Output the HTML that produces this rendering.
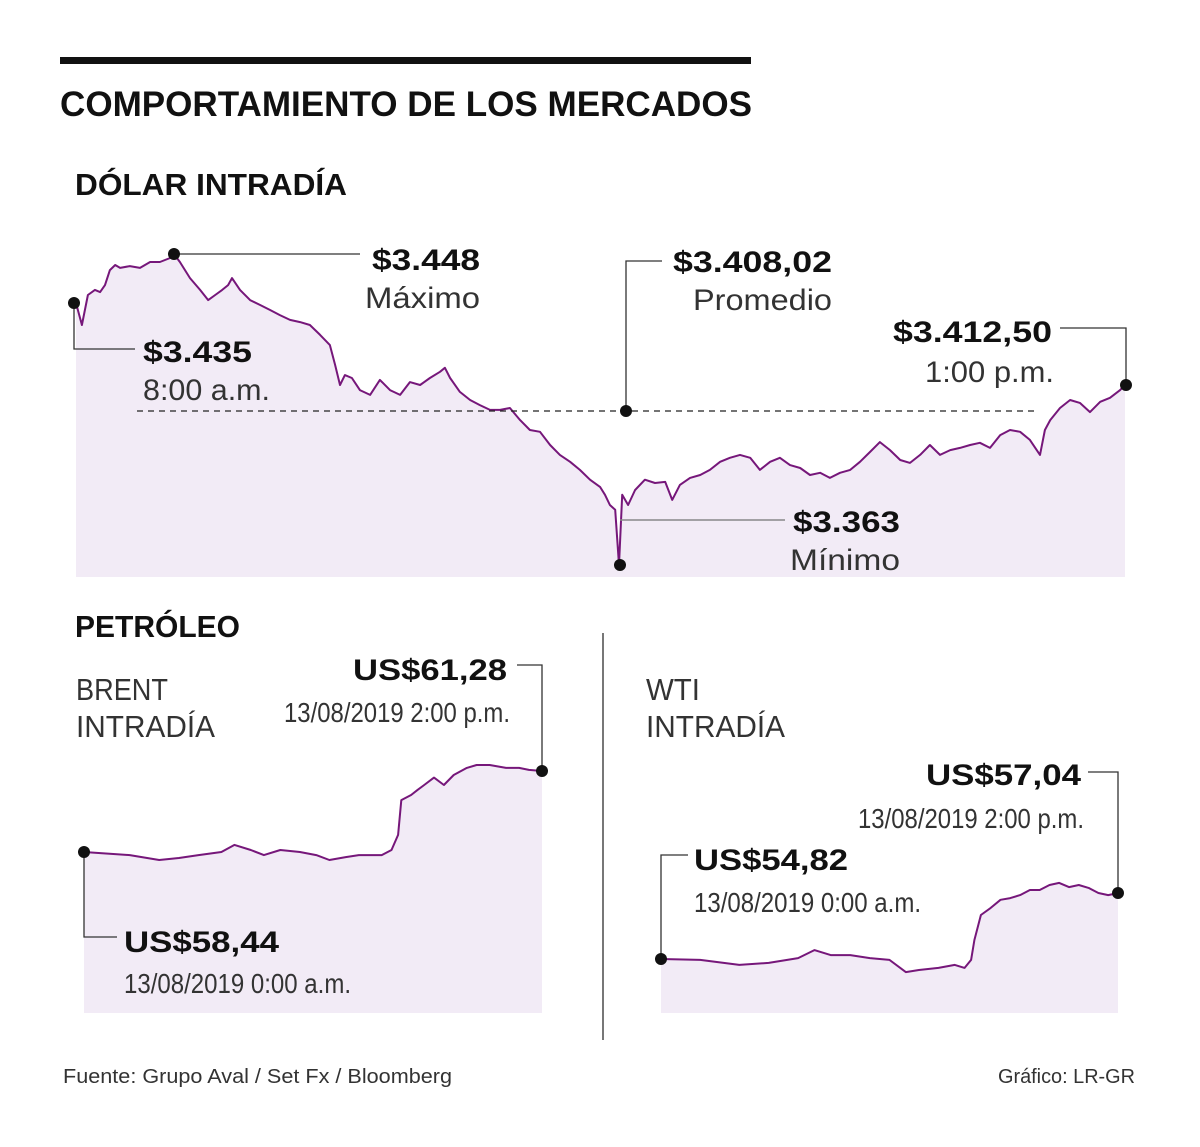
<!DOCTYPE html>
<html><head><meta charset="utf-8"><style>
html,body{margin:0;padding:0;background:#fff;}
svg{display:block;font-family:"Liberation Sans",sans-serif;}
</style></head><body>
<svg id="chart" width="1200" height="1147" viewBox="0 0 1200 1147" xmlns="http://www.w3.org/2000/svg">
<rect x="60" y="57" width="691" height="7" fill="#111"/>
<text x="60" y="116" font-size="35" font-weight="bold" textLength="692" lengthAdjust="spacingAndGlyphs" fill="#111">COMPORTAMIENTO DE LOS MERCADOS</text>
<text x="75" y="195" font-size="31" font-weight="bold" textLength="272" lengthAdjust="spacingAndGlyphs" fill="#111">DÓLAR INTRADÍA</text>
<g id="dollar"></g>
<g id="brent"></g>
<g id="wti"></g>
<g id="annot" fill="#111">
<line x1="137" y1="411" x2="1035" y2="411" stroke="#222" stroke-width="1.3" stroke-dasharray="6,5"/>
<polyline points="174,254 360,254" fill="none" stroke="#333" stroke-width="1.3"/>
<polyline points="74,303 74,349 135,349" fill="none" stroke="#333" stroke-width="1.3"/>
<polyline points="626,411 626,261 662,261" fill="none" stroke="#333" stroke-width="1.3"/>
<polyline points="1060,328 1126,328 1126,385" fill="none" stroke="#333" stroke-width="1.3"/>
<polyline points="620,520 785,520" fill="none" stroke="#888" stroke-width="1.5"/>
<circle cx="174" cy="254" r="6"/>
<circle cx="74" cy="303" r="6"/>
<circle cx="626" cy="411" r="6"/>
<circle cx="1126" cy="385" r="6"/>
<circle cx="620" cy="565" r="6"/>
<text x="372" y="270" font-size="30" font-weight="bold" textLength="108" lengthAdjust="spacingAndGlyphs">$3.448</text>
<text x="365" y="308" font-size="30" fill="#333" textLength="115" lengthAdjust="spacingAndGlyphs">Máximo</text>
<text x="673" y="272" font-size="30" font-weight="bold" textLength="159" lengthAdjust="spacingAndGlyphs">$3.408,02</text>
<text x="693" y="310" font-size="30" fill="#333" textLength="139" lengthAdjust="spacingAndGlyphs">Promedio</text>
<text x="143" y="362" font-size="30" font-weight="bold" textLength="109" lengthAdjust="spacingAndGlyphs">$3.435</text>
<text x="143" y="400" font-size="30" fill="#333" textLength="127" lengthAdjust="spacingAndGlyphs">8:00 a.m.</text>
<text x="893" y="342" font-size="30" font-weight="bold" textLength="159" lengthAdjust="spacingAndGlyphs">$3.412,50</text>
<text x="925" y="382" font-size="30" fill="#333" textLength="129" lengthAdjust="spacingAndGlyphs">1:00 p.m.</text>
<text x="793" y="532" font-size="30" font-weight="bold" textLength="107" lengthAdjust="spacingAndGlyphs">$3.363</text>
<text x="790" y="570" font-size="30" fill="#333" textLength="110" lengthAdjust="spacingAndGlyphs">Mínimo</text>

<text x="75" y="637" font-size="31" font-weight="bold" textLength="165" lengthAdjust="spacingAndGlyphs">PETRÓLEO</text>
<line x1="603" y1="633" x2="603" y2="1040" stroke="#777" stroke-width="2"/>
<text x="76" y="700" font-size="31" fill="#333" textLength="92" lengthAdjust="spacingAndGlyphs">BRENT</text>
<text x="76" y="737" font-size="31" fill="#333" textLength="139" lengthAdjust="spacingAndGlyphs">INTRADÍA</text>
<text x="646" y="700" font-size="31" fill="#333" textLength="54" lengthAdjust="spacingAndGlyphs">WTI</text>
<text x="646" y="737" font-size="31" fill="#333" textLength="139" lengthAdjust="spacingAndGlyphs">INTRADÍA</text>

<polyline points="542,771 542,665 517,665" fill="none" stroke="#333" stroke-width="1.3"/>
<polyline points="84,852 84,937 117,937" fill="none" stroke="#333" stroke-width="1.3"/>
<polyline points="1118,893 1118,772 1088,772" fill="none" stroke="#333" stroke-width="1.3"/>
<polyline points="661,959 661,855 688,855" fill="none" stroke="#333" stroke-width="1.3"/>
<circle cx="542" cy="771" r="6"/>
<circle cx="84" cy="852" r="6"/>
<circle cx="1118" cy="893" r="6"/>
<circle cx="661" cy="959" r="6"/>

<text x="353" y="680" font-size="30" font-weight="bold" textLength="154" lengthAdjust="spacingAndGlyphs">US$61,28</text>
<text x="284" y="722" font-size="28" fill="#333" textLength="226" lengthAdjust="spacingAndGlyphs">13/08/2019 2:00 p.m.</text>
<text x="124" y="952" font-size="30" font-weight="bold" textLength="155" lengthAdjust="spacingAndGlyphs">US$58,44</text>
<text x="124" y="993" font-size="28" fill="#333" textLength="227" lengthAdjust="spacingAndGlyphs">13/08/2019 0:00 a.m.</text>
<text x="926" y="785" font-size="30" font-weight="bold" textLength="155" lengthAdjust="spacingAndGlyphs">US$57,04</text>
<text x="858" y="828" font-size="28" fill="#333" textLength="226" lengthAdjust="spacingAndGlyphs">13/08/2019 2:00 p.m.</text>
<text x="694" y="870" font-size="30" font-weight="bold" textLength="154" lengthAdjust="spacingAndGlyphs">US$54,82</text>
<text x="694" y="912" font-size="28" fill="#333" textLength="227" lengthAdjust="spacingAndGlyphs">13/08/2019 0:00 a.m.</text>

<text x="63" y="1083" font-size="20" fill="#333" textLength="389" lengthAdjust="spacingAndGlyphs">Fuente: Grupo Aval / Set Fx / Bloomberg</text>
<text x="998" y="1083" font-size="20" fill="#333" textLength="137" lengthAdjust="spacingAndGlyphs">Gráfico: LR-GR</text>
</g>
</svg>
<script>
const dollarMinutes=[0,1.7,3.4,5.4,6.9,8.3,9.7,11.2,12.6,15.4,18.3,21.2,24,26.9,28,29.7,32.6,35.5,37.8,39.8,41.8,43.5,44.6,46.9,49.8,52.6,55.5,58.3,61.2,64.1,66.9,69.8,72.6,74.1,75.5,76.9,78.9,81.2,84.1,86.9,89.8,92.7,95.5,98.4,101.2,104.1,105.5,107,109.8,112.7,115.5,118.4,121.3,124.1,127,129.8,132.7,135.6,138.4,141.3,144.1,147,149.9,151.3,152.7,154.2,155.3,156.2,157.9,159.9,162.7,165.6,168.5,170.5,172.7,175.6,178.5,181.3,184.2,187,189.9,192.8,195.6,198.5,201.3,204.2,207.1,209.9,212.8,215.6,218.5,221.4,224.2,227.1,229.9,232.8,235.7,238.5,241.4,244.2,247.1,250,252.8,255.7,258.5,261.4,264.3,267.1,270,272.8,275.7,277.1,278.6,281.4,284.3,287.1,290,292.9,295.7,298.6,300];
const dollarValues=[3434.6,3428.6,3436.8,3438.2,3437.6,3439.5,3443.6,3445,3444.2,3444.7,3444.2,3445.8,3445.8,3446.9,3448,3445.8,3441.4,3438.2,3435.4,3436.8,3438.2,3439.5,3441.4,3438.2,3435.4,3434.1,3432.7,3431.3,3430,3429.4,3428.6,3425.9,3423.1,3417.7,3412.2,3414.9,3414.1,3410.8,3409.5,3413.6,3410.8,3409.5,3413,3412.2,3414.1,3415.8,3416.9,3414.1,3410.3,3408.1,3406.7,3405.4,3405.4,3405.9,3402.6,3399.9,3399.4,3395.8,3393.1,3391.2,3389,3386.3,3384.3,3382.2,3379.4,3378.1,3363,3382.2,3379.4,3383.5,3386.3,3385.4,3385.7,3380.8,3384.9,3386.8,3387.6,3389,3391.2,3392.3,3393.1,3392.3,3389,3391.2,3392.3,3390.3,3389.5,3387.6,3388.2,3386.8,3388.2,3389,3391.2,3393.9,3396.6,3394.4,3391.7,3390.9,3393.1,3395.8,3393.1,3394.4,3395,3395.8,3396.4,3395,3398.5,3399.9,3399.4,3397.2,3393.1,3399.9,3402.6,3405.9,3408.1,3407.3,3404.8,3407.6,3408.7,3410.8,3412.2];
const brentHours=[0,0.5,1.4,2.3,2.9,3.5,4.2,4.6,5.1,5.5,6,6.6,7.1,7.5,8,8.4,9.1,9.4,9.6,9.7,10,10.2,10.4,10.7,11,11.3,11.7,12,12.4,12.9,13.3,13.6,14];
const brentValues=[58.44,58.40,58.33,58.16,58.23,58.33,58.44,58.69,58.51,58.33,58.51,58.44,58.33,58.16,58.26,58.33,58.33,58.51,59.04,60.26,60.44,60.62,60.79,61.05,60.79,61.14,61.39,61.49,61.49,61.39,61.39,61.32,61.28];
const wtiHours=[0,1.2,2.4,3.3,4.2,4.7,5.2,5.8,6.4,7,7.5,7.9,8.5,9,9.3,9.5,9.6,9.8,10.1,10.4,10.7,11,11.3,11.6,11.9,12.2,12.5,12.8,13.1,13.4,13.7,14];
const wtiValues=[54.82,54.79,54.62,54.69,54.85,55.12,54.95,54.95,54.85,54.79,54.38,54.45,54.52,54.62,54.52,54.79,55.46,56.30,56.54,56.81,56.87,56.97,57.14,57.14,57.31,57.38,57.24,57.31,57.21,57.04,56.97,57.04];

const NS='http://www.w3.org/2000/svg';
function lin(d0,d1,r0,r1){return v=>r0+(v-d0)/(d1-d0)*(r1-r0);}
function draw(gid,xs,ys,xScale,yScale,base,name){
  const g=document.getElementById(gid);
  const n=Math.min(xs.length,ys.length);
  let pts=[];
  for(let i=0;i<n;i++)pts.push(xScale(xs[i]).toFixed(1)+','+yScale(ys[i]).toFixed(1));
  const area=document.createElementNS(NS,'polygon');
  area.setAttribute('points',xScale(xs[0]).toFixed(1)+','+base+' '+pts.join(' ')+' '+xScale(xs[n-1]).toFixed(1)+','+base);
  area.setAttribute('fill','#f2ebf6');
  
  
  g.appendChild(area);
  const line=document.createElementNS(NS,'polyline');
  line.setAttribute('points',pts.join(' '));
  line.setAttribute('fill','none');
  line.setAttribute('stroke','#76177a');
  line.setAttribute('stroke-width','2');
  line.setAttribute('stroke-linejoin','round');
  
  
  g.appendChild(line);
}
draw('dollar',dollarMinutes,dollarValues,lin(0,300,76,1125),lin(3448,3363,254,565),577,'dollar');
draw('brent',brentHours,brentValues,lin(0,14,84,542),lin(58.44,61.28,852,771),1013,'brent');
draw('wti',wtiHours,wtiValues,lin(0,14,661,1118),lin(54.82,57.04,959,893),1013,'wti');
</script>
</body></html>
